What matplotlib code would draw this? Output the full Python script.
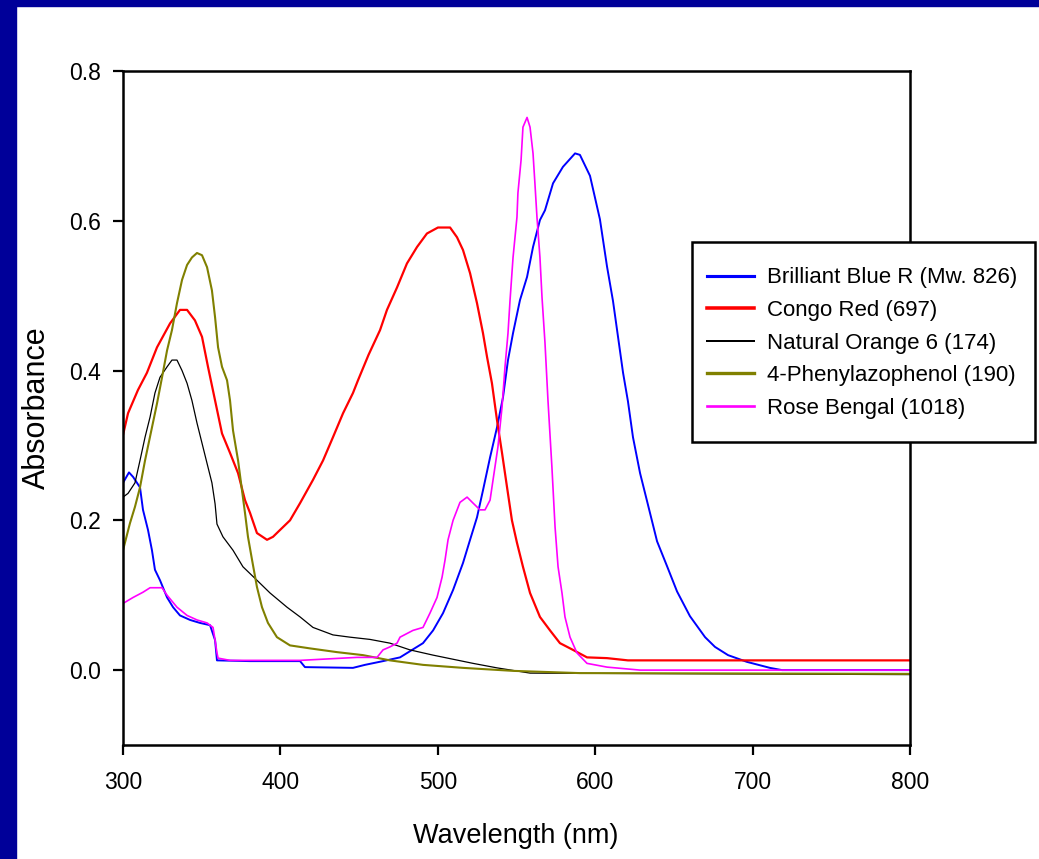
import numpy as np
import matplotlib
matplotlib.use("Agg")
import matplotlib.pyplot as plt
from matplotlib.patches import Rectangle

plt.rcParams["font.family"] = ["Liberation Sans", "DejaVu Sans"]

# Brilliant Blue R
bbr_nm = [300, 303.8, 306.4, 310.8, 312.7, 315.9, 318.4, 320.3, 323.5, 328, 331.8, 336.2,
          342.6, 348.9, 355.3, 358.5, 359.7, 380.7, 412.5, 415.6, 446.1, 453.7, 465.2,
          476, 490.6, 497, 503.3, 509.7, 516, 520.5, 524.9, 528.7, 533.2, 537.6, 541.4,
          544.6, 547.8, 552.2, 556.7, 560.5, 564.9, 568.1, 573.2, 579.5, 587.2, 590.3,
          596.7, 603, 607.5, 611.3, 614.5, 617.7, 620.8, 624, 628.5, 632.9, 639.3, 645.6,
          652, 660.2, 669.8, 676.1, 684.4, 696.4, 711, 718.7, 800]
bbr_abs = [0.250, 0.264, 0.258, 0.244, 0.214, 0.187, 0.160, 0.134, 0.120, 0.097, 0.084, 0.073,
           0.067, 0.063, 0.060, 0.040, 0.013, 0.012, 0.012, 0.004, 0.003, 0.007, 0.012,
           0.017, 0.036, 0.053, 0.076, 0.107, 0.143, 0.174, 0.204, 0.240, 0.284, 0.324, 0.364,
           0.414, 0.450, 0.494, 0.525, 0.565, 0.601, 0.614, 0.650, 0.672, 0.690, 0.688,
           0.660, 0.602, 0.539, 0.493, 0.445, 0.397, 0.359, 0.311, 0.263, 0.226, 0.172, 0.139,
           0.105, 0.072, 0.044, 0.031, 0.020, 0.011, 0.003, 0.000, 0.000]

# Congo Red
cr_nm = [300, 303.2, 309.5, 315.2, 321.6, 329.9, 336.2, 340.7, 345.7, 350.2, 354, 358.5,
         362.9, 368, 373.1, 377.5, 380.7, 385.1, 391.5, 395.3, 399.7, 406.1, 412.5, 420.7,
         427.1, 433.4, 439.8, 446.1, 449.3, 456, 463.3, 467.7, 474.1, 480.4, 486.8, 493.1, 500.1,
         507.8, 512.2, 516, 520.5, 524.9, 528.7, 531.3, 534.4, 537.6, 540.8, 544, 547.1,
         550.3, 554.1, 558.6, 564.9, 571.3, 577.6, 585.9, 594.8, 607.5, 620.8, 800]
cr_abs = [0.314, 0.343, 0.374, 0.397, 0.431, 0.463, 0.481, 0.481, 0.467, 0.445, 0.405, 0.360,
          0.316, 0.290, 0.263, 0.227, 0.210, 0.183, 0.174, 0.178, 0.187, 0.200, 0.223, 0.254,
          0.280, 0.311, 0.343, 0.370, 0.387, 0.421, 0.454, 0.481, 0.511, 0.543, 0.565, 0.583, 0.591,
          0.591, 0.578, 0.561, 0.530, 0.490, 0.450, 0.418, 0.383, 0.334, 0.290, 0.244, 0.200,
          0.170, 0.138, 0.103, 0.071, 0.053, 0.036, 0.027, 0.017, 0.016, 0.013, 0.013]

# Natural Orange 6
no_nm = [300, 303.2, 307.6, 310.8, 314, 317.2, 320.3, 323.5, 328, 331.1, 334.3, 337.5,
         340.7, 343.8, 347, 350.2, 353.4, 356.5, 358.5, 359.7, 363.5, 369.9, 376.2, 385.1,
         393.4, 404.2, 412.5, 420.7, 433.4, 444.2, 456.9, 469.6, 482.3, 497, 522.4, 537.6,
         558.6, 800]
no_abs = [0.231, 0.236, 0.250, 0.280, 0.311, 0.338, 0.370, 0.391, 0.405, 0.414, 0.414, 0.400,
          0.383, 0.360, 0.330, 0.303, 0.276, 0.250, 0.222, 0.195, 0.178, 0.160, 0.138, 0.120,
          0.103, 0.084, 0.071, 0.057, 0.047, 0.044, 0.041, 0.036, 0.027, 0.020, 0.009, 0.003,
          -0.004, -0.006]

# 4-Phenylazophenol
pap_nm = [300, 304.4, 307.6, 310.8, 314, 318.4, 321.6, 324.8, 328, 331.1, 334.3, 337.5,
          340.7, 343.8, 347, 350.2, 353.4, 356.5, 358.5, 360.4, 362.9, 366.1, 368, 369.9,
          373.1, 375.6, 377.5, 379.4, 382, 385.1, 388.3, 392.1, 397.8, 406.1, 418.8, 436,
          452.5, 469.6, 490.6, 516, 547.8, 590.3, 800]
pap_abs = [0.160, 0.196, 0.218, 0.244, 0.280, 0.324, 0.356, 0.391, 0.427, 0.454, 0.490, 0.521,
           0.541, 0.551, 0.557, 0.554, 0.538, 0.507, 0.471, 0.431, 0.405, 0.387, 0.360, 0.320,
           0.280, 0.240, 0.210, 0.178, 0.147, 0.111, 0.084, 0.063, 0.044, 0.033, 0.029, 0.024,
           0.020, 0.013, 0.007, 0.003, -0.001, -0.004, -0.005]

# Rose Bengal
rb_nm = [300, 306.4, 312.7, 317.2, 324.8, 328, 334.3, 340.7, 347, 353.4, 357.2, 358.5,
         359.7, 360.4, 368, 412.5, 448.7, 461.4, 465.2, 469.6, 474.1, 476, 484.2, 490.6,
         495, 499.5, 502.7, 504.6, 506.5, 509.7, 514.1, 518.6, 522.4, 526.8, 530, 533.2,
         535.1, 538.2, 540.8, 542.7, 544.6, 545.9, 547.8, 550.3, 550.9, 552.9, 554.1, 556.7,
         558.6, 560.5, 561.7, 563, 564.9, 566.2, 568.1, 570, 572.5, 574.5, 576.4, 578.9,
         580.8, 584, 588.4, 594.8, 607.5, 628.5, 800]
rb_abs = [0.089, 0.097, 0.104, 0.110, 0.110, 0.100, 0.084, 0.073, 0.067, 0.063, 0.057, 0.040,
          0.023, 0.016, 0.013, 0.013, 0.017, 0.017, 0.027, 0.031, 0.036, 0.044, 0.053, 0.057,
          0.076, 0.097, 0.124, 0.147, 0.174, 0.200, 0.224, 0.231, 0.223, 0.214, 0.214, 0.227,
          0.254, 0.298, 0.351, 0.405, 0.450, 0.494, 0.551, 0.605, 0.637, 0.681, 0.725, 0.738,
          0.725, 0.690, 0.650, 0.605, 0.551, 0.498, 0.437, 0.360, 0.271, 0.191, 0.138, 0.103,
          0.071, 0.044, 0.023, 0.009, 0.004, 0.000, 0.000]

series = [
    (bbr_nm, bbr_abs, "Brilliant Blue R (Mw. 826)", "#0000ff", 1.4),
    (cr_nm, cr_abs, "Congo Red (697)", "#ff0000", 1.6),
    (no_nm, no_abs, "Natural Orange 6 (174)", "#000000", 0.9),
    (pap_nm, pap_abs, "4-Phenylazophenol (190)", "#808000", 1.5),
    (rb_nm, rb_abs, "Rose Bengal (1018)", "#ff00ff", 1.2),
]
x_ticks = [300, 400, 500, 600, 700, 800]
y_ticks = [0.0, 0.2, 0.4, 0.6, 0.8]

W, H = 1039, 859
fig = plt.figure(figsize=(W / 100, H / 100), dpi=100, facecolor="white")

# navy frame along the top and left edges
fig.patches.append(Rectangle((0, 1 - 6 / H), 1, 6 / H, transform=fig.transFigure,
                             color="#000099", zorder=0))
fig.patches.append(Rectangle((0, 0), 16 / W, 1, transform=fig.transFigure,
                             color="#000099", zorder=0))

ax = fig.add_axes([123 / W, 1 - 745 / H, 787 / W, 674 / H])

handles = []
for nm, ab, label, color, lw in series:
    ln, = ax.plot(nm, ab, color=color, linewidth=lw, label=label)
    handles.append(ln)

ax.set_xlim(300, 800)
ax.set_ylim(-0.1, 0.8)
ax.set_xticks(x_ticks)
ax.set_yticks(y_ticks)
ax.set_xticklabels([str(v) for v in x_ticks])
ax.set_yticklabels([f"{v:.1f}" for v in y_ticks])
ax.tick_params(direction="out", length=7, width=1.6, labelsize=16.5, colors="black")
ax.tick_params(axis="x", pad=12)
ax.tick_params(axis="y", pad=9)
for sp in ax.spines.values():
    sp.set_linewidth(1.8)
    sp.set_color("black")

fig.text(37 / W, 1 - 408 / H, "Absorbance", rotation=90, fontsize=22,
         ha="center", va="center")
fig.text(516 / W, 1 - 836 / H, "Wavelength (nm)", fontsize=19.5,
         ha="center", va="center")

# legend box sticks out past the right edge of the axes
box = Rectangle((692 / W, 1 - 442 / H), 343 / W, 200 / H, transform=fig.transFigure,
                facecolor="white", edgecolor="black", linewidth=1.8, zorder=4)
fig.add_artist(box)
leg = fig.legend(handles, [s[2] for s in series], loc="upper left",
                 bbox_to_anchor=(693 / W, 1 - 253 / H), bbox_transform=fig.transFigure,
                 fontsize=16, frameon=False, handlelength=2.1, handletextpad=0.6,
                 labelspacing=0.52, borderpad=0.65, borderaxespad=0)
leg.set_zorder(5)
for line, (_, _, _, _, lw) in zip(leg.get_lines(), series):
    line.set_linewidth(lw * 1.6)

fig.savefig("out.png", dpi=100, facecolor="white")
